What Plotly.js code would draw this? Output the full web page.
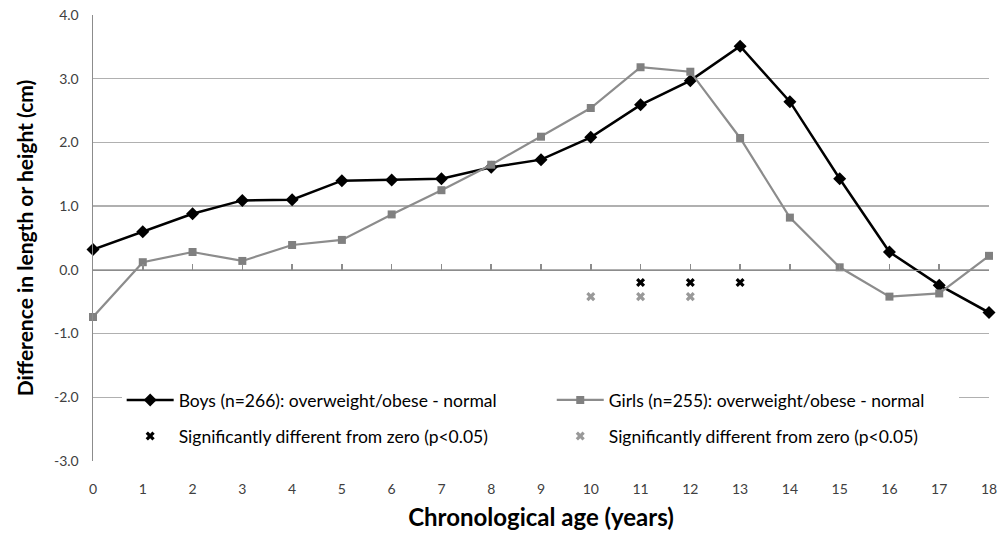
<!DOCTYPE html>
<html>
<head>
<meta charset="utf-8">
<script src="https://cdn.plot.ly/plotly-3.0.1.min.js"></script>
<style>html,body{margin:0;padding:0;background:#fff;}#chart{width:1003px;height:540px;}</style>
</head>
<body>
<div id="chart"></div>
<script>
const ages = [0,1,2,3,4,5,6,7,8,9,10,11,12,13,14,15,16,17,18];
const boys = [0.32,0.60,0.88,1.09,1.10,1.40,1.41,1.43,1.61,1.73,2.08,2.59,2.97,3.51,2.64,1.43,0.28,-0.24,-0.67];
const girls = [-0.74,0.12,0.28,0.14,0.39,0.47,0.87,1.25,1.65,2.09,2.54,3.18,3.11,2.07,0.82,0.04,-0.42,-0.37,0.22];
const sigBoysAges = [11,12,13];
const sigBoysY = [-0.2,-0.2,-0.2];
const sigGirlsAges = [10,11,12];
const sigGirlsY = [-0.42,-0.42,-0.42];
const yTicks = [-3,-2,-1,0,1,2,3,4];

const font = "Lato, 'Open Sans', sans-serif";

const traces = [
  {x: ages, y: boys, type:'scatter', mode:'lines+markers', name:'Boys (n=266): overweight/obese - normal',
   line:{color:'#000000', width:2.5}, marker:{symbol:'diamond', size:10, color:'#000000'}, cliponaxis:false,
   legend:'legend'},
  {x: ages, y: girls, type:'scatter', mode:'lines+markers', name:'Girls (n=255): overweight/obese - normal',
   line:{color:'#8c8c8c', width:2.2}, marker:{symbol:'square', size:8, color:'#808080'}, cliponaxis:false,
   legend:'legend2'},
  {x: sigBoysAges, y: sigBoysY, type:'scatter', mode:'markers', name:'Significantly different from zero (p<0.05)',
   marker:{symbol:'x', size:8, color:'#000000'}, cliponaxis:false, legend:'legend3'},
  {x: sigGirlsAges, y: sigGirlsY, type:'scatter', mode:'markers', name:'Significantly different from zero (p<0.05)',
   marker:{symbol:'x', size:8, color:'#999999'}, cliponaxis:false, legend:'legend4'}
];

const legendBase = {orientation:'h', yanchor:'top', xanchor:'left',
  bgcolor:'#ffffff', borderwidth:0, itemwidth:47, entrywidthmode:'pixels',
  font:{family:font, size:17.5, color:'#000000'}};

const layout = {
  width:1003, height:540,
  margin:{l:93, r:14, t:15, b:79, autoexpand:false},
  paper_bgcolor:'#ffffff', plot_bgcolor:'#ffffff',
  font:{family:font, color:'#404040'},
  showlegend:true,
  legend:Object.assign({}, legendBase, {x:0.032, y:0.177, entrywidth:370}),
  legend2:Object.assign({}, legendBase, {x:0.512, y:0.177, entrywidth:345}),
  legend3:Object.assign({}, legendBase, {x:0.032, y:0.096, entrywidth:0}),
  legend4:Object.assign({}, legendBase, {x:0.512, y:0.096, entrywidth:0}),
  xaxis:{range:[0,18], tickmode:'array', tickvals:ages, ticktext:ages.map(String),
    showgrid:false, zeroline:false, showline:false, ticks:'',
    ticklabelstandoff:18,
    tickfont:{family:font, size:14, color:'#404040'},
    title:{text:'<b>Chronological age (years)</b>', font:{family:font, size:24, color:'#000000'}, standoff:13}},
  xaxis2:{range:[0,18], overlaying:'x', anchor:'free', position:3/7, side:'bottom',
    tickmode:'array', tickvals:ages, showticklabels:false,
    showgrid:false, zeroline:false, showline:true, linecolor:'#8c8c8c', linewidth:1.5,
    ticks:'inside', ticklen:6, tickcolor:'#8c8c8c', tickwidth:1.5},
  yaxis:{range:[-3,4], tickmode:'array', tickvals:yTicks, ticktext:yTicks.map(v=>v.toFixed(1)),
    showgrid:true, gridcolor:'#b0b0b0', gridwidth:1.5, zeroline:false,
    showline:true, linecolor:'#8c8c8c', linewidth:1.5, ticks:'',
    ticklabelstandoff:10,
    tickfont:{family:font, size:14, color:'#404040'},
    title:{text:'<b>Difference in length or height (cm)</b>', font:{family:font, size:21, color:'#000000'}, standoff:14}}
};

traces.push({x:[0], y:[null], xaxis:'x2', yaxis:'y', type:'scatter', mode:'markers', showlegend:false, hoverinfo:'skip'});

Plotly.newPlot('chart', traces, layout, {displayModeBar:false, staticPlot:true});
</script>
</body>
</html>
